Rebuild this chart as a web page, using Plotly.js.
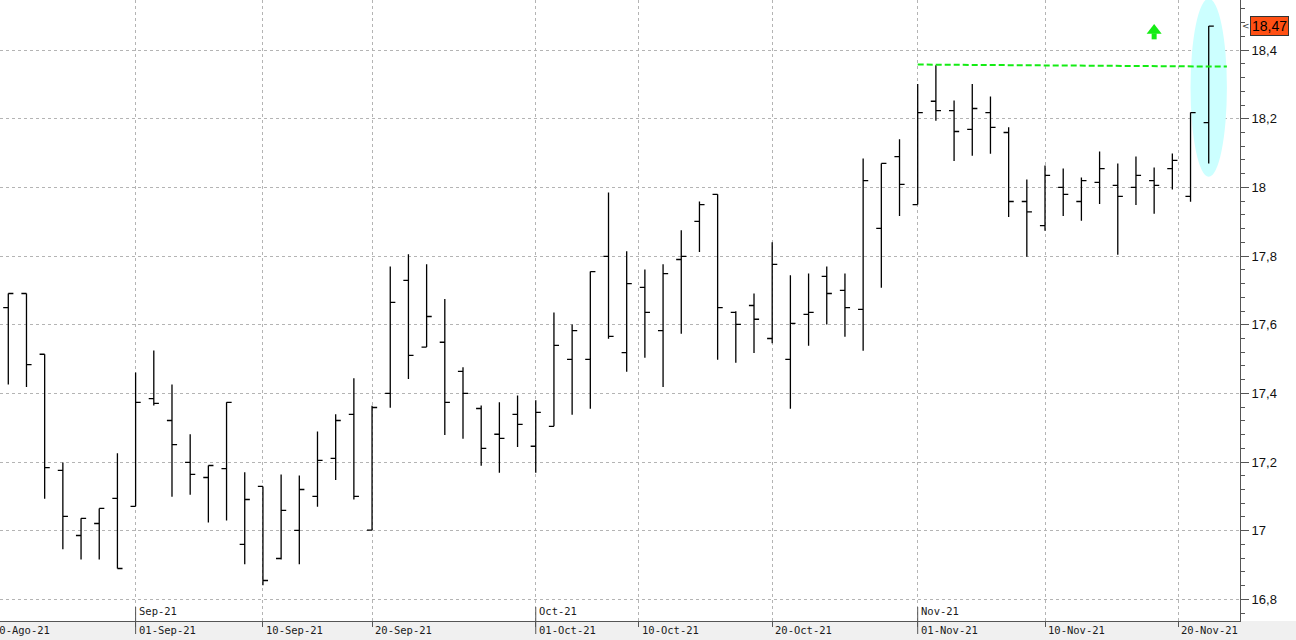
<!DOCTYPE html>
<html>
<head>
<meta charset="utf-8">
<script src="https://cdn.plot.ly/plotly-3.0.1.min.js"></script>
<style>
  html, body { margin: 0; padding: 0; background: #ffffff; }
  #chart { width: 1296px; height: 640px; }
</style>
</head>
<body>
<div id="chart"></div>
<script>
// ---------------- DATA ----------------
const dates = [
  '2021-08-23','2021-08-24','2021-08-25','2021-08-26','2021-08-27','2021-08-30','2021-08-31',
  '2021-09-01','2021-09-02','2021-09-03','2021-09-06','2021-09-07','2021-09-08','2021-09-09','2021-09-10',
  '2021-09-13','2021-09-14','2021-09-15','2021-09-16','2021-09-17','2021-09-20','2021-09-21','2021-09-22',
  '2021-09-23','2021-09-24','2021-09-27','2021-09-28','2021-09-29','2021-09-30',
  '2021-10-01','2021-10-04','2021-10-05','2021-10-06','2021-10-07','2021-10-08','2021-10-11','2021-10-12',
  '2021-10-13','2021-10-14','2021-10-15','2021-10-18','2021-10-19','2021-10-20','2021-10-21','2021-10-22',
  '2021-10-25','2021-10-26','2021-10-27','2021-10-28','2021-10-29',
  '2021-11-01','2021-11-02','2021-11-03','2021-11-04','2021-11-05','2021-11-08','2021-11-09','2021-11-10',
  '2021-11-11','2021-11-12','2021-11-15','2021-11-16','2021-11-17','2021-11-18','2021-11-19','2021-11-22',
  '2021-11-23'
];
const openV = [17.650,17.691,17.514,17.176,16.986,17.021,17.094,17.071,17.385,17.321,17.199,17.155,17.181,16.960,17.129,
  16.919,17.001,17.100,17.211,17.339,17.002,17.400,17.729,17.535,17.549,17.464,17.356,17.281,17.339,17.246,17.304,17.499,
  17.499,17.799,17.519,17.709,17.583,17.790,17.901,17.980,17.636,17.656,17.560,17.499,17.630,17.741,17.700,17.645,17.881,
  18.090,17.950,18.251,18.224,18.169,18.218,18.160,17.959,17.889,18.000,17.959,18.015,18.006,18.000,18.020,18.055,17.974,18.189];
const highV = [17.691,17.691,17.514,17.199,17.036,17.065,17.226,17.461,17.525,17.426,17.281,17.190,17.374,17.170,17.129,
  17.164,17.161,17.289,17.339,17.444,17.364,17.770,17.805,17.776,17.675,17.476,17.365,17.374,17.394,17.380,17.636,17.601,
  17.755,17.985,17.814,17.761,17.776,17.875,17.959,17.980,17.639,17.691,17.840,17.744,17.749,17.770,17.749,18.084,18.070,
  18.140,18.301,18.356,18.253,18.301,18.265,18.175,18.023,18.064,18.055,18.029,18.105,18.070,18.090,18.058,18.099,18.218,18.470];
const lowV = [17.426,17.419,17.093,16.946,16.916,16.916,16.890,17.071,17.365,17.099,17.105,17.024,17.030,16.902,16.841,
  16.916,16.902,17.070,17.148,17.091,17.002,17.358,17.442,17.535,17.279,17.268,17.189,17.169,17.244,17.169,17.304,17.338,
  17.355,17.559,17.463,17.504,17.419,17.574,17.812,17.498,17.489,17.518,17.546,17.355,17.539,17.601,17.565,17.524,17.708,
  17.917,17.950,18.194,18.077,18.092,18.098,17.914,17.798,17.874,17.917,17.903,17.952,17.804,17.949,17.923,17.994,17.958,18.070];
const closeV = [17.691,17.484,17.184,17.042,17.036,17.065,16.890,17.374,17.371,17.251,17.164,17.190,17.374,17.091,16.855,
  17.059,17.120,17.205,17.321,17.100,17.359,17.665,17.511,17.624,17.374,17.400,17.240,17.269,17.310,17.345,17.540,17.583,
  17.755,17.566,17.720,17.636,17.749,17.799,17.950,17.650,17.601,17.616,17.776,17.604,17.636,17.691,17.650,18.020,18.070,
  18.009,18.218,18.224,18.163,18.230,18.175,17.959,17.929,18.035,17.980,18.020,18.055,17.974,18.035,18.006,18.079,18.218,18.470];

const tickDates  = ['2021-08-20','2021-09-01','2021-09-10','2021-09-20','2021-10-01','2021-10-10','2021-10-20','2021-11-01','2021-11-10','2021-11-20'];
const tickLabels = ['20-Ago-21','01-Sep-21','10-Sep-21','20-Sep-21','01-Oct-21','10-Oct-21','20-Oct-21','01-Nov-21','10-Nov-21','20-Nov-21'];
const monthDates  = ['2021-09-01','2021-10-01','2021-11-01'];
const monthLabels = ['Sep-21','Oct-21','Nov-21'];

// resistance line (dashed green)
const trendDates  = ['2021-11-01','2021-11-24'];
const trendValues = [18.358, 18.352];
// signal arrow
const signalDate  = '2021-11-18';
const signalTip   = 18.476;
// highlight ellipse around last bar
const highlightDate = '2021-11-23';
const highlightLow  = 18.031;
const highlightHigh = 18.55;
const lastPrice = 18.47;

// ---------------- LAYOUT MATH ----------------
const W = 1296, H = 640;
const M = {l: 0, r: 56, t: 0, b: 19};
const plotW = W - M.l - M.r, plotH = H - M.t - M.b;
const xRange = [-0.456, 67.72];
const yRange = [16.737, 18.546];
const vPerPx = (yRange[1] - yRange[0]) / plotH;

function busPos(ds) {
  const base = Date.UTC(2021, 7, 23);
  const [y, m, d] = ds.split('-').map(Number);
  const diff = Math.round((Date.UTC(y, m - 1, d) - base) / 86400000);
  const wk = Math.floor(diff / 7);
  const r = ((diff % 7) + 7) % 7;
  return r < 5 ? wk * 5 + r : wk * 5 + 4 + (r - 4) / 3;
}
const toPaperX = v => (v - xRange[0]) / (xRange[1] - xRange[0]);

const xBars = dates.map(busPos);
const tickPos = tickDates.map(busPos);
const monthPos = monthDates.map(busPos);

// ---------------- TRACES ----------------
const ohlc = {
  type: 'ohlc',
  x: xBars, open: openV, high: highV, low: lowV, close: closeV,
  increasing: {line: {color: '#000000', width: 1.3}},
  decreasing: {line: {color: '#000000', width: 1.3}},
  tickwidth: 0.28,
  hoverinfo: 'skip',
  showlegend: false
};
const trend = {
  type: 'scatter', mode: 'lines',
  x: trendDates.map(busPos), y: trendValues,
  line: {color: '#14ec14', width: 2, dash: '6px,3px'},
  hoverinfo: 'skip', showlegend: false
};
const sx = busPos(signalDate);
const arrowStem = {
  type: 'scatter', mode: 'markers',
  x: [sx], y: [signalTip - 12.3 * vPerPx],
  marker: {symbol: 'line-ns', size: 4.3, color: '#14ec14', line: {color: '#14ec14', width: 5}},
  hoverinfo: 'skip', showlegend: false
};
const arrowHead = {
  type: 'scatter', mode: 'markers',
  x: [sx], y: [signalTip - 6.5 * vPerPx],
  marker: {symbol: 'triangle-up', size: 13, color: '#14ec14', line: {width: 0}},
  hoverinfo: 'skip', showlegend: false
};

// ---------------- SHAPES & ANNOTATIONS ----------------
const shapes = [];
// bottom grey band
shapes.push({type: 'rect', xref: 'paper', yref: 'paper', x0: -0.01, x1: W / plotW + 0.01,
  y0: -M.b / plotH, y1: 0, fillcolor: '#f0f0f0', line: {width: 0}, layer: 'below'});
// highlight ellipse
const hx = busPos(highlightDate);
shapes.push({type: 'circle', xref: 'x', yref: 'y', x0: hx - 1.0, x1: hx + 1.0,
  y0: highlightLow, y1: highlightHigh, fillcolor: '#ccffff', line: {width: 0}, layer: 'between'});
// month-start ticks
monthPos.forEach(p => {
  shapes.push({type: 'line', xref: 'x', yref: 'paper', x0: p, x1: p, y0: -13 / plotH, y1: 14 / plotH,
    line: {color: '#555555', width: 1}, layer: 'above'});
});

const annotations = [];
const dateFont = {family: 'DejaVu Sans Mono, monospace', size: 10.5, color: '#1a1a1a'};
tickPos.forEach((p, i) => {
  annotations.push({xref: 'paper', yref: 'paper', x: toPaperX(p), y: 0, xanchor: 'left', yanchor: 'top',
    xshift: 1, yshift: -1, text: tickLabels[i], showarrow: false, font: dateFont});
});
monthPos.forEach((p, i) => {
  annotations.push({xref: 'paper', yref: 'paper', x: toPaperX(p), y: 0, xanchor: 'left', yanchor: 'bottom',
    xshift: 1, yshift: 2, text: monthLabels[i], showarrow: false, font: dateFont});
});
// last price box
annotations.push({xref: 'paper', yref: 'y', x: 1, y: lastPrice, xanchor: 'left', yanchor: 'middle',
  xshift: 10, text: String(lastPrice).replace('.', ','), showarrow: false,
  bgcolor: '#ff5014', bordercolor: '#333333', borderwidth: 1, borderpad: 1,
  font: {family: 'Liberation Sans, Arial, sans-serif', size: 14, color: '#000000'}});
annotations.push({xref: 'paper', yref: 'y', x: 1, y: lastPrice, xanchor: 'left', yanchor: 'middle',
  xshift: 0, text: '<', showarrow: false,
  font: {family: 'DejaVu Sans, sans-serif', size: 9, color: '#333333'}});

const layout = {
  width: W, height: H,
  margin: M,
  paper_bgcolor: '#ffffff', plot_bgcolor: '#ffffff',
  separators: ',.',
  showlegend: false,
  dragmode: false,
  xaxis: {
    type: 'linear', range: xRange, fixedrange: true,
    rangeslider: {visible: false},
    tickmode: 'array', tickvals: tickPos, showticklabels: false,
    ticks: 'outside', ticklen: 5, tickcolor: '#555555',
    showgrid: true, gridcolor: '#b4b4b4', gridwidth: 1, griddash: '3px,3px',
    showline: true, linecolor: '#555555', linewidth: 1,
    zeroline: false
  },
  yaxis: {
    side: 'right', range: yRange, fixedrange: true,
    tickmode: 'linear', tick0: 16.8, dtick: 0.2,
    ticks: 'outside', ticklen: 8, tickcolor: '#555555',
    tickfont: {family: 'Liberation Sans, Arial, sans-serif', size: 13, color: '#111111'},
    showgrid: true, gridcolor: '#b4b4b4', gridwidth: 1, griddash: '3px,3px',
    showline: true, linecolor: '#555555', linewidth: 1,
    zeroline: false,
    minor: {tick0: 16.8, dtick: 0.04, ticks: 'outside', ticklen: 4, tickcolor: '#555555', showgrid: false}
  },
  shapes: shapes,
  annotations: annotations
};

Plotly.newPlot('chart', [ohlc, trend, arrowStem, arrowHead], layout, {staticPlot: true, displayModeBar: false});
</script>
</body>
</html>
